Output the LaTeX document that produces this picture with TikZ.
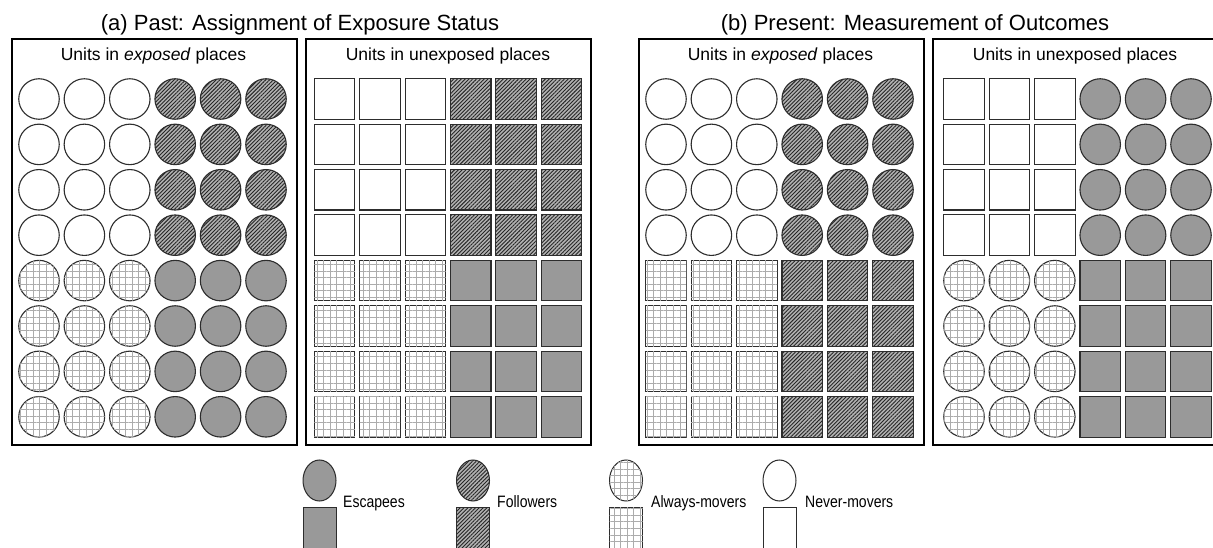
\documentclass[tikz,border=0pt]{standalone}
\usepackage{fontspec}
\setmainfont{Liberation Sans}
\newfontfamily\narrowfont[FakeStretch=0.85]{Liberation Sans}
\usetikzlibrary{patterns.meta,shapes.geometric}
\definecolor{esc}{RGB}{153,153,153}
\definecolor{edge}{RGB}{45,45,45}
\tikzset{
  unitshape/.style={draw=edge, line width=1.1pt, inner sep=0pt, minimum size=40.5pt},
  circ/.style={unitshape, circle},
  sqr/.style={unitshape, rectangle},
  never/.style={fill=white},
  escapee/.style={fill=esc},
  follower/.style={preaction={fill=gray!60}, pattern={Lines[angle=45,distance=2.7pt,line width=0.9pt]}, pattern color=black!85},
  always/.style={fill=white, postaction={pattern={Hatch[angle=0,distance=6.6pt,line width=0.5pt]}, pattern color=gray!65}},
  panel/.style={draw=black, line width=2pt, rectangle, minimum width=285pt, minimum height=406pt, anchor=north west, inner sep=0pt},
  title/.style={font=\fontsize{22}{26}\selectfont, anchor=base, inner sep=0pt},
  header/.style={font=\fontsize{17.5}{21}\selectfont, anchor=base, inner sep=0pt},
  legtext/.style={font=\narrowfont\fontsize{16.5}{20}\selectfont, anchor=base west, inner sep=0pt},
  legcirc/.style={draw=edge, line width=1pt, ellipse, inner sep=0pt, minimum width=33pt, minimum height=41pt},
  legsqr/.style={draw=edge, line width=1pt, rectangle, inner sep=0pt, minimum width=33pt, minimum height=41pt},
}
% #1 name prefix, #2 x of first centre in panel, #3 row offset, #4 column offset, #5 shape, #6 kind
\newcommand\unitblock[6]{%
  \foreach \r in {0,...,3}{%
    \foreach \c in {0,1,2}{%
      \node[#5,#6] (#1-\r-\c) at ({#2+45.4*(\c+#4)},{99+45.4*(\r+#3)}) {};
    }%
  }%
}
\begin{document}
\begin{tikzpicture}[x=1pt,y=-1pt]
\useasboundingbox (0,0) rectangle (1213,548);
\fill[white] (0,0) rectangle (1213,548);
% titles
\node[title] (ta) at (300,31) {(a) Past: Assignment of Exposure Status};
\node[title] (tb) at (915,31) {(b) Present: Measurement of Outcomes};
% panels
\node[panel] (pa1) at (11,38) {};
\node[panel] (pa2) at (305,38) {};
\node[panel] (pb1) at (638,38) {};
\node[panel] (pb2) at (932,38) {};
\node[header] (ha1) at (153.5,61) {Units in \textit{exposed} places};
\node[header] (ha2) at (448,61) {Units in unexposed places};
\node[header] (hb1) at (780.5,61) {Units in \textit{exposed} places};
\node[header] (hb2) at (1075,61) {Units in unexposed places};
% panel a1
\unitblock{a1tl}{39}{0}{0}{circ}{never}
\unitblock{a1tr}{39}{0}{3}{circ}{follower}
\unitblock{a1bl}{39}{4}{0}{circ}{always}
\unitblock{a1br}{39}{4}{3}{circ}{escapee}
% panel a2
\unitblock{a2tl}{334.5}{0}{0}{sqr}{never}
\unitblock{a2tr}{334.5}{0}{3}{sqr}{follower}
\unitblock{a2bl}{334.5}{4}{0}{sqr}{always}
\unitblock{a2br}{334.5}{4}{3}{sqr}{escapee}
% panel b1
\unitblock{b1tl}{666}{0}{0}{circ}{never}
\unitblock{b1tr}{666}{0}{3}{circ}{follower}
\unitblock{b1bl}{666}{4}{0}{sqr}{always}
\unitblock{b1br}{666}{4}{3}{sqr}{follower}
% panel b2
\unitblock{b2tl}{964}{0}{0}{sqr}{never}
\unitblock{b2tr}{964}{0}{3}{circ}{escapee}
\unitblock{b2bl}{964}{4}{0}{circ}{always}
\unitblock{b2br}{964}{4}{3}{sqr}{escapee}
% legend
\node[legcirc,escapee] (le1) at (319.5,480.5) {};
\node[legsqr,escapee] (ls1) at (319.5,527.5) {};
\node[legtext] (lt1) at (343,507) {Escapees};
\node[legcirc,follower] (le2) at (473,480.5) {};
\node[legsqr,follower] (ls2) at (473,527.5) {};
\node[legtext] (lt2) at (497,507) {Followers};
\node[legcirc,always] (le3) at (626,480.5) {};
\node[legsqr,always] (ls3) at (626,527.5) {};
\node[legtext] (lt3) at (651,507) {Always-movers};
\node[legcirc,never] (le4) at (779.5,480.5) {};
\node[legsqr,never] (ls4) at (779.5,527.5) {};
\node[legtext] (lt4) at (805,507) {Never-movers};
\end{tikzpicture}
\end{document}
